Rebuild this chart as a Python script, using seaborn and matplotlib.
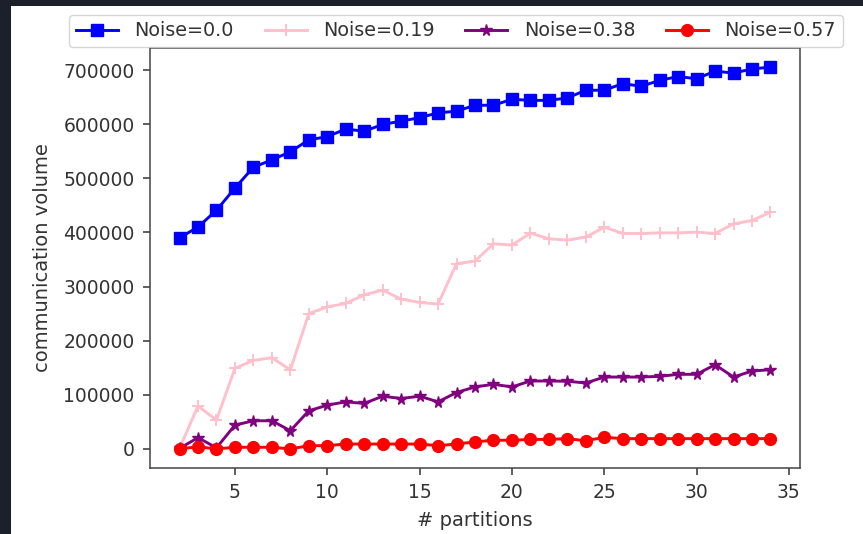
import matplotlib
matplotlib.use("Agg")
import matplotlib.pyplot as plt
from matplotlib.patches import Rectangle
import numpy as np
import pandas as pd
import seaborn as sns

# number of partitions
partitions = list(range(2, 35))

# communication volume per noise level
vol_noise_000 = [390000, 410000, 441000, 482000, 520500, 534000, 549000, 571000,
                 577000, 591000, 587000, 599500, 605700, 612000, 621000, 624000,
                 635000, 635000, 646000, 644000, 644000, 648500, 662700, 662700,
                 675000, 670000, 681000, 688000, 684000, 698000, 694500, 702000,
                 705500]
vol_noise_019 = [1000, 79500, 53000, 149000, 163500, 168500, 146000, 250000,
                 262500, 268700, 284700, 293400, 276800, 270600, 267700, 342300,
                 347000, 379000, 376600, 398700, 388200, 385800, 391300, 409700,
                 398100, 398000, 399200, 399200, 400500, 398000, 415800, 422000,
                 437300]
vol_noise_038 = [1000, 20800, 2000, 44000, 52000, 52000, 33600, 70400,
                 80800, 87000, 84000, 97400, 93100, 97400, 87000, 104200,
                 114500, 119400, 114500, 125500, 125500, 125000, 121800, 132800,
                 132800, 132800, 134100, 137800, 137800, 155600, 132800, 143900,
                 146400]
vol_noise_057 = [0, 4000, 0, 3000, 3000, 3000, 0, 6000,
                 6000, 9000, 9000, 9000, 9000, 9000, 6000, 9000,
                 13000, 16000, 16000, 17500, 17500, 19000, 15000, 21500,
                 19000, 19000, 19000, 19000, 19000, 19000, 19000, 19000,
                 19000]

series = [
    ("Noise=0.0", vol_noise_000, "blue", "s"),
    ("Noise=0.19", vol_noise_019, "pink", "+"),
    ("Noise=0.38", vol_noise_038, "purple", "*"),
    ("Noise=0.57", vol_noise_057, "red", "o"),
]

plt.rcParams["font.family"] = ["DejaVu Sans"]
text_color = "#333333"
font_size = 14

fig = plt.figure(figsize=(8.63, 5.34), dpi=100)
fig.patch.set_facecolor("#1c202b")
# white canvas inside the dark frame
fig.patches.append(Rectangle((11 / 863, 0), 1 - 11 / 863, 1 - 6 / 534,
                             transform=fig.transFigure, facecolor="white",
                             edgecolor="none", zorder=-10))

ax = fig.add_axes([150 / 863, 66 / 534, 650 / 863, 420 / 534])
ax.set_facecolor("white")

for label, values, color, marker in series:
    df = pd.DataFrame({"partitions": partitions, "volume": values})
    sns.lineplot(data=df, x="partitions", y="volume", ax=ax, label=label,
                 color=color, marker=marker, markersize=8.5, linewidth=2.1,
                 markeredgecolor=color,
                 markeredgewidth=1.4 if marker == "+" else 1.0)

ax.set_xlabel("# partitions", fontsize=font_size, color=text_color, labelpad=6)
ax.set_ylabel("communication volume", fontsize=font_size, color=text_color,
              labelpad=8)
ax.set_xticks([5, 10, 15, 20, 25, 30, 35])
ax.set_yticks(np.arange(0, 700001, 100000))
ax.ticklabel_format(axis="y", style="plain")
ax.tick_params(labelsize=13.5, colors=text_color, length=5, width=1.1, pad=6)
for sp in ax.spines.values():
    sp.set_linewidth(1.1)
    sp.set_color("#444444")

ax.legend(loc="center", bbox_to_anchor=(456 / 863, 1 - 31 / 534),
          bbox_transform=fig.transFigure, ncol=4, fontsize=13.8,
          handlelength=2.2, handletextpad=0.85, columnspacing=1.6,
          labelcolor=text_color, borderpad=0.35)

fig.savefig("out.png", dpi=100, facecolor=fig.get_facecolor())
